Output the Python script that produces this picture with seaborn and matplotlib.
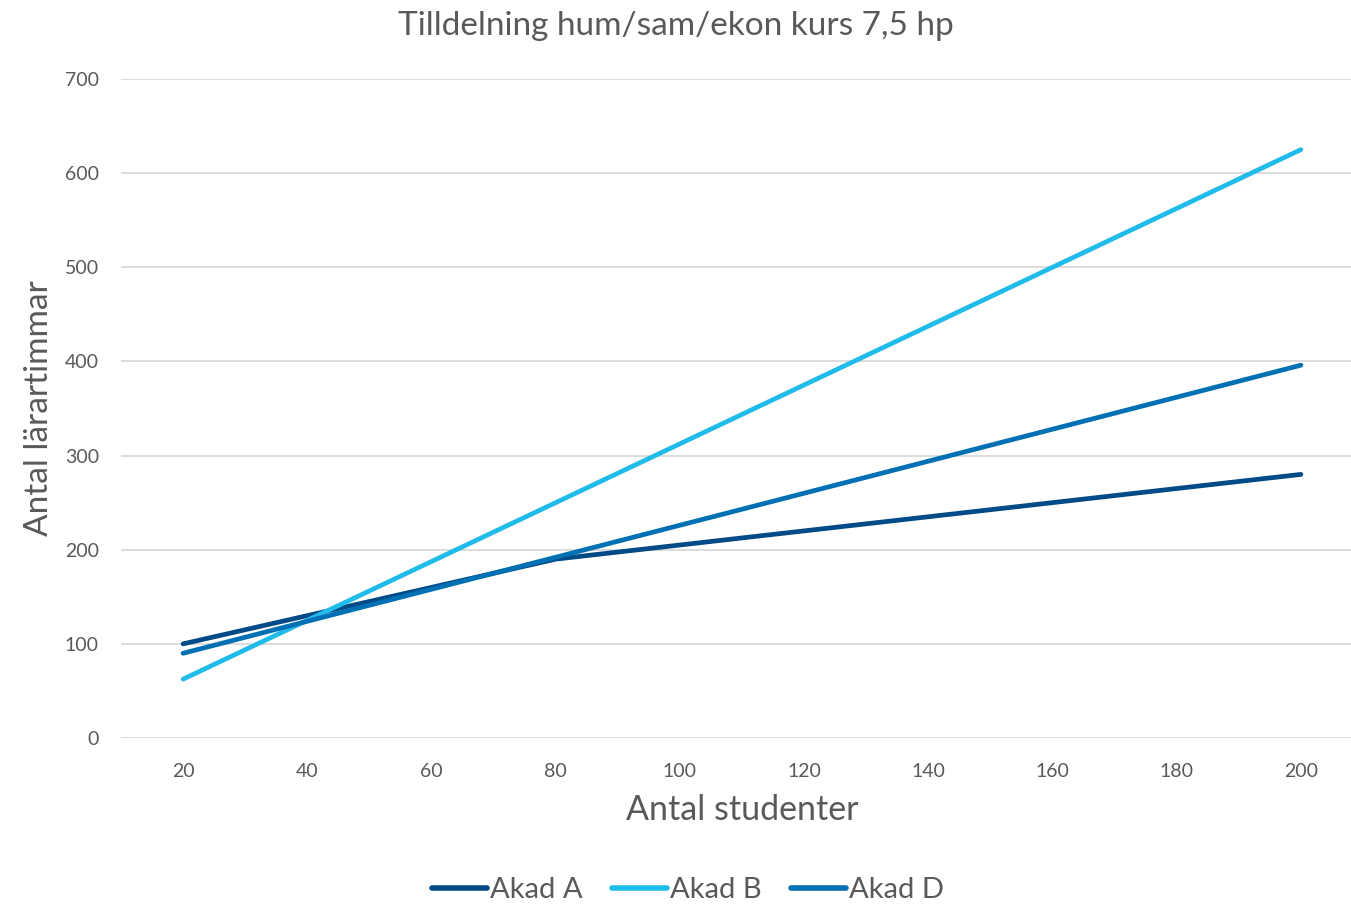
import pandas as pd
import matplotlib.pyplot as plt
import seaborn as sns

# data
studenter = [20, 40, 60, 80, 100, 120, 140, 160, 180, 200]
akad_a = [100, 130, 160, 190, 205, 220, 235, 250, 265, 280]
akad_b = [62.5, 125, 187.5, 250, 312.5, 375, 437.5, 500, 562.5, 625]
akad_d = [90, 124, 158, 192, 226, 260, 294, 328, 362, 396]

df = pd.DataFrame({
    'Antal studenter': studenter * 3,
    'Timmar': akad_a + akad_b + akad_d,
    'Serie': ['Akad A'] * 10 + ['Akad B'] * 10 + ['Akad D'] * 10,
})

sns.set_style('white')
plt.rcParams['font.family'] = ['Lato', 'DejaVu Sans']
grey = '#595959'

fig = plt.figure(figsize=(13.51, 9.06), dpi=100)
ax = fig.add_axes([121 / 1351, 1 - 738 / 906, (1363 - 121) / 1351, (738 - 79) / 906])

palette = {'Akad A': '#004A87', 'Akad B': '#20BBEA', 'Akad D': '#0070B4'}
sns.lineplot(data=df, x='Antal studenter', y='Timmar', hue='Serie', palette=palette,
             linewidth=3.4, solid_capstyle='round', ax=ax)

ax.set_xlim(10, 210)
ax.set_ylim(0, 700)
ax.set_xticks(studenter)
ax.set_yticks(range(0, 701, 100))
ax.grid(axis='y', color='#D9D9D9', linewidth=1.3)
ax.set_axisbelow(True)
for s in ax.spines.values():
    s.set_visible(False)
ax.tick_params(axis='both', length=0, labelsize=14, colors=grey)
ax.tick_params(axis='x', pad=18)
ax.tick_params(axis='y', pad=16)

ax.set_xlabel('Antal studenter', fontsize=24.5, color=grey, labelpad=10)
ax.set_ylabel('Antal lärartimmar', fontsize=24, color=grey, labelpad=8)
fig.text(0.5, 1 - 26 / 906, 'Tilldelning hum/sam/ekon kurs 7,5 hp', ha='center', va='center',
         fontsize=24, color=grey)

leg = ax.legend(loc='center', bbox_to_anchor=(0.5 * 1351 / 1242 - 121 / 1242 + 0.01, -(890 - 738) / 659),
                ncol=3, frameon=False, fontsize=21, handlelength=1.9, handletextpad=0.1,
                columnspacing=1.0)
for t in leg.get_texts():
    t.set_color(grey)
for h in leg.get_lines():
    h.set_linewidth(4)

plt.savefig('out.png', dpi=100)
